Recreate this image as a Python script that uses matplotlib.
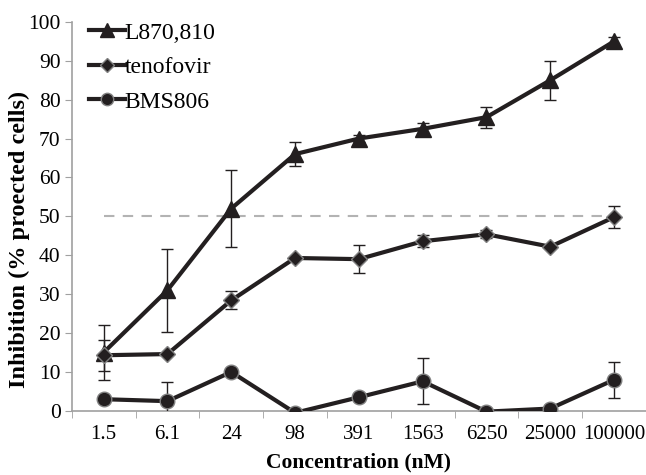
import matplotlib
matplotlib.use('Agg')
import matplotlib.pyplot as plt
from matplotlib.lines import Line2D
import numpy as np

plt.rcParams['font.family'] = ['Liberation Serif', 'DejaVu Serif']

# 数据
concentrations = ['1.5', '6.1', '24', '98', '391', '1563', '6250', '25000', '100000']
l870_values = [15, 31, 52, 66, 70, 72.5, 75.5, 85, 95]
l870_errors = [7, 10.6, 9.8, 3, 1, 1.5, 2.7, 5, 1]
tenofovir_values = [14.3, 14.6, 28.4, 39.3, 39, 43.6, 45.4, 42.2, 49.8]
tenofovir_errors = [4, 0, 2.3, 0, 3.6, 1.5, 1, 0, 2.8]
bms_values = [3, 2.5, 10, -0.5, 3.5, 7.6, -0.2, 0.6, 8]
bms_errors = [0, 4.8, 0, 0, 0, 5.9, 0.5, 1, 4.6]

line_color = '#231f20'
x = np.arange(len(concentrations))

fig = plt.figure(figsize=(6.46, 4.75), dpi=100)
ax = fig.add_axes([0.111, 0.135, 0.889, 0.819])

# 50% 参考线
ax.hlines(50, 0, 8, colors='#b3b3b3', linestyles=(0, (5, 4)), linewidth=1.5, zorder=1)

series = [
    (l870_values, l870_errors, '^', 12, line_color, 'L870,810'),
    (tenofovir_values, tenofovir_errors, 'D', 8, '#808080', 'tenofovir'),
    (bms_values, bms_errors, 'o', 10.5, '#808080', 'BMS806'),
]
handles = []
for vals, errs, mk, ms, mec, name in series:
    ax.errorbar(x, vals, yerr=errs, color=line_color, linewidth=3,
                marker=mk, markersize=ms, markerfacecolor=line_color, markeredgecolor=mec,
                ecolor=line_color, elinewidth=1, capsize=4, zorder=3)
    # 图例只显示线和点，不带误差棒
    handles.append(Line2D([], [], color=line_color, linewidth=3, marker=mk,
                          markersize=ms * 0.85, markerfacecolor=line_color,
                          markeredgecolor=mec, label=name))

ax.set_xlim(-0.5, 8.5)
ax.set_ylim(0, 100)
ax.set_yticks(np.arange(0, 101, 10))
ax.set_xticks(x)
ax.set_xticklabels(concentrations)
ax.set_xticks(np.arange(-0.5, 8.6, 1), minor=True)
ax.tick_params(axis='x', which='major', length=0, labelsize=15, pad=10)
ax.tick_params(axis='x', which='minor', length=5, color='#a0a0a0', direction='out')
ax.tick_params(axis='y', length=5, color='#a0a0a0', labelsize=15.5, pad=3)

for side in ['top', 'right']:
    ax.spines[side].set_visible(False)
for side in ['left', 'bottom']:
    ax.spines[side].set_color('#a0a0a0')
    ax.spines[side].set_linewidth(1.2)

ax.set_xlabel('Concentration (nM)', fontsize=15.5, fontweight='bold', labelpad=6)
ax.set_ylabel('Inhibition (% proected cells)', fontsize=17.5, fontweight='bold')
ax.yaxis.set_label_coords(-0.072, 0.44)

ax.legend(handles=handles, loc='upper left', frameon=False, fontsize=17, handlelength=1.5,
          handletextpad=0.0, borderaxespad=0.1, labelspacing=0.55,
          bbox_to_anchor=(0.01, 1.03))

plt.savefig('out.png', dpi=100, facecolor='white')
